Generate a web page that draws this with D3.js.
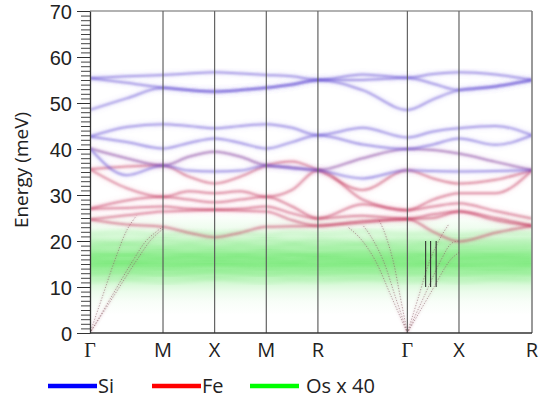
<!DOCTYPE html>
<html><head><meta charset="utf-8">
<script src="https://cdn.jsdelivr.net/npm/d3@7"></script>
<style>
body{margin:0;background:#fff;}
svg{display:block;}
text{font-family:"Open Sans",sans-serif;fill:#222;}
</style>
</head><body>
<svg id="c" width="539" height="401"></svg>
<script>
// ---------- data ----------
const kNodes=[0,0.354,0.707,0.957,1.207,1.457,1.707,1.957,2.207,2.640,3.073,3.323,3.573,3.927,4.280];
const symK=[0,0.707,1.207,1.707,2.207,3.073,3.573,4.280];
const symLabels=["Γ","M","X","M","R","Γ","X","R"];
const yTicks=[0,10,20,30,40,50,60,70];
const legendNames=["Si","Fe","Os x 40"];
const legendColors=["#0000ff","#ff0000","#00ff00"];

// Si-dominated branches (meV) at kNodes
const siBands=[
 [55.4,55.8,56.1,56.4,56.7,56.4,56.1,55.8,55.0,56.2,55.5,56.3,56.7,56.2,55.0],
 [55.4,54.4,53.3,52.8,52.5,52.8,53.3,54.0,55.0,55.0,55.5,54.2,52.8,53.6,55.0],
 [48.5,51.0,53.3,52.8,52.5,52.8,53.3,54.0,55.0,52.8,48.5,50.8,52.8,53.6,55.0],
 [42.7,44.8,45.4,45.0,44.5,45.0,45.4,44.6,43.0,44.6,42.5,43.8,44.5,45.0,43.0],
 [42.7,41.5,40.1,41.3,42.3,41.3,40.1,41.5,43.0,41.0,40.0,41.0,42.3,40.9,43.0],
 [40.1,34.3,36.4,35.3,35.1,35.3,36.4,35.8,35.4,33.6,35.4,35.2,35.1,35.2,35.4]
];
// mixed Si/Fe branches
const mixBands=[
 [40.1,38.0,36.4,38.3,39.4,38.3,36.4,36.0,35.4,38.0,40.0,39.8,39.0,37.2,35.4]
];
// Fe-dominated branches
const feBands=[
 [35.6,36.2,36.4,34.0,32.5,34.0,36.4,37.3,35.4,31.1,35.4,33.6,32.5,33.3,35.4],
 [35.6,31.5,29.6,30.8,30.4,30.8,29.6,31.1,35.4,29.0,26.7,29.0,30.4,30.4,35.4],
 [27.0,28.8,29.6,29.0,28.4,29.0,29.6,27.5,24.9,28.0,26.7,27.5,28.2,26.5,24.9],
 [27.0,27.2,27.5,27.0,26.8,27.0,27.5,26.0,24.9,25.5,24.8,25.8,26.4,25.0,23.3],
 [24.7,25.6,26.4,26.6,26.8,26.6,26.4,24.5,23.3,24.3,24.8,25.0,26.4,24.5,23.3],
 [24.7,23.6,23.1,21.8,20.8,21.8,23.1,23.2,23.3,24.0,24.8,22.0,19.9,21.8,23.3]
];
// Os (x40) low-lying branches
const osBands=[
 [21.5,22.0,21.2,21.8,21.4,21.8,21.2,21.9,21.5,22.2,21.5,21.7,21.3,21.9,21.6],
 [20.0,19.6,20.3,19.8,20.2,19.8,20.3,19.7,20.1,19.5,20.0,19.8,20.4,19.9,20.1],
 [18.8,19.3,18.6,19.0,18.5,19.0,18.6,19.2,18.7,19.1,18.8,19.4,18.9,18.6,19.0],
 [17.5,17.0,17.8,17.2,17.6,17.2,17.8,17.3,17.0,17.6,17.5,17.1,17.7,17.3,17.6],
 [16.6,16.9,16.4,16.8,16.5,16.8,16.4,16.9,16.6,16.3,16.6,16.9,16.5,16.7,16.4],
 [16.0,15.5,15.8,16.2,16.0,16.2,15.8,15.6,16.1,15.7,16.0,15.6,15.9,16.2,15.8],
 [15.0,15.3,14.8,15.2,15.4,15.2,14.8,15.1,14.9,15.3,15.0,15.2,14.7,15.1,15.2],
 [14.2,14.6,14.0,14.5,14.8,14.5,14.0,14.4,14.1,14.6,14.2,14.7,14.3,14.0,14.5],
 [12.8,13.2,12.6,13.0,13.4,13.0,12.6,13.1,12.9,13.3,12.8,13.0,12.7,13.2,12.9],
 [11.2,11.6,11.0,11.4,11.8,11.4,11.0,11.5,11.3,11.7,11.2,11.5,11.1,11.6,11.3]
];
const osHigh=[61.0,57.6];
// Os density profile (energy, relative intensity)
const osProfileE=[26,23,21,19,17,15,13,11,9,7,4];
const osProfileA=[0,0.08,0.2,0.36,0.52,0.56,0.44,0.22,0.1,0.04,0];
// acoustic branches near Γ, [k, meV]
const acoustic=[
 [[0,0],[0.12,7.9],[0.242,15.9],[0.36,22.5],[0.45,25.5]],
 [[0,0],[0.2,7.6],[0.42,15.9],[0.55,20.2],[0.707,23.1]],
 [[0,0],[0.22,7.7],[0.455,15.9],[0.6,20.5],[0.707,22.6]],
 [[3.073,0],[3.003,8],[2.933,15.9],[2.85,22],[2.80,24.5]],
 [[3.073,0],[2.955,8],[2.837,15.9],[2.72,21],[2.64,23.5]],
 [[3.073,0],[2.916,8],[2.759,15.9],[2.62,20.5],[2.50,23]],
 [[3.073,0],[3.183,8],[3.293,15.9],[3.40,21],[3.47,23.5]],
 [[3.073,0],[3.236,8],[3.40,15.9],[3.50,19.5],[3.573,20]],
 [[3.073,0],[3.28,8],[3.49,15.9],[3.573,17.5]]
];
const markK=[3.250,3.298,3.352];
const markE=[10,20];

// ---------- drawing ----------
const svg=d3.select("#c");
const L=90,R=532,T=11,B=333;
const x=d3.scaleLinear().domain([0,4.280]).range([L,R]);
const y=d3.scaleLinear().domain([0,70]).range([B,T]);

const defs=svg.append("defs");
defs.append("clipPath").attr("id","clip").append("rect")
  .attr("x",L).attr("y",T).attr("width",R-L).attr("height",B-T);
const fb=defs.append("filter").attr("id","blur").attr("x","-5%").attr("y","-50%").attr("width","110%").attr("height","200%");
fb.append("feGaussianBlur").attr("stdDeviation",1.0);
const fb2=defs.append("filter").attr("id","blur2").attr("x","-5%").attr("y","-50%").attr("width","110%").attr("height","200%");
fb2.append("feGaussianBlur").attr("stdDeviation",2.2);

const grad=defs.append("linearGradient").attr("id","osg")
  .attr("gradientUnits","userSpaceOnUse").attr("x1",0).attr("x2",0)
  .attr("y1",y(osProfileE[0])).attr("y2",y(osProfileE[osProfileE.length-1]));
const e0=osProfileE[0], e1=osProfileE[osProfileE.length-1];
osProfileE.forEach((e,i)=>{
  grad.append("stop").attr("offset",(e0-e)/(e0-e1))
    .attr("stop-color","rgb(60,225,60)").attr("stop-opacity",osProfileA[i]);
});

const g=svg.append("g").attr("clip-path","url(#clip)");

// Os cloud
g.append("rect").attr("x",L).attr("width",R-L)
  .attr("y",y(e0)).attr("height",y(e1)-y(e0)).attr("fill","url(#osg)");

const line=d3.line().x((d,i)=>x(kNodes[i])).y(d=>y(d)).curve(d3.curveMonotoneX);

g.selectAll(".osb").data(osBands).join("path")
  .attr("d",line).attr("fill","none").attr("stroke","rgb(50,205,50)")
  .attr("stroke-width",2.2).attr("stroke-opacity",0.16).attr("filter","url(#blur2)");

g.selectAll(".osh").data(osHigh).join("line")
  .attr("x1",L).attr("x2",R).attr("y1",d=>y(d)).attr("y2",d=>y(d))
  .attr("stroke","rgb(200,232,220)").attr("stroke-width",2).attr("stroke-opacity",0.55)
  .attr("filter","url(#blur)");

// acoustic (dotted)
const acPath=d=>d3.line().x(p=>x(p[0])).y(p=>y(p[1])).curve(d3.curveCatmullRom)(d);
g.selectAll(".acw").data(acoustic).join("path")
  .attr("d",acPath)
  .attr("fill","none").attr("stroke","rgb(190,120,140)").attr("stroke-width",2.2)
  .attr("stroke-opacity",0.12).attr("filter","url(#blur)");
g.selectAll(".ac").data(acoustic).join("path")
  .attr("d",acPath)
  .attr("fill","none").attr("stroke","rgb(130,85,95)").attr("stroke-width",0.9)
  .attr("stroke-dasharray","1.2,1.6").attr("stroke-opacity",0.6);

// bands
function drawBands(data,glow,core){
  g.append("g").selectAll("path").data(data).join("path")
    .attr("d",line).attr("fill","none").attr("stroke",glow)
    .attr("stroke-width",5).attr("stroke-opacity",0.14).attr("filter","url(#blur2)");
  g.append("g").selectAll("path").data(data).join("path")
    .attr("d",line).attr("fill","none").attr("stroke",core)
    .attr("stroke-width",2.0).attr("stroke-opacity",0.55).attr("filter","url(#blur)");
}
drawBands(feBands,"rgb(225,110,140)","rgb(195,60,95)");
drawBands(mixBands,"rgb(160,90,190)","rgb(120,45,145)");
drawBands(siBands,"rgb(130,115,230)","rgb(100,80,210)");

// high-symmetry vertical lines
svg.selectAll(".vl").data(symK.slice(1,-1)).join("line")
  .attr("x1",d=>x(d)).attr("x2",d=>x(d)).attr("y1",T).attr("y2",B)
  .attr("stroke","#555").attr("stroke-width",1.1);

// short marker lines
svg.selectAll(".mk").data(markK).join("line")
  .attr("x1",d=>x(d)).attr("x2",d=>x(d)).attr("y1",y(markE[1])).attr("y2",y(markE[0]))
  .attr("stroke","#333").attr("stroke-width",1.1);

// border
svg.append("line").attr("x1",L).attr("x2",R).attr("y1",T).attr("y2",T).attr("stroke","#666").attr("stroke-width",1.2);
svg.append("line").attr("x1",R).attr("x2",R).attr("y1",T).attr("y2",B).attr("stroke","#777").attr("stroke-width",1.5);
svg.append("line").attr("x1",L).attr("x2",R).attr("y1",B).attr("y2",B).attr("stroke","#333").attr("stroke-width",1.3);

// y axis
const minor=svg.append("g").attr("transform",`translate(${L},0)`)
  .call(d3.axisLeft(y).tickValues(d3.range(0,71,1)).tickSize(9).tickFormat(""));
minor.select(".domain").remove();
minor.selectAll("line").attr("stroke","#444");
const major=svg.append("g").attr("transform",`translate(${L},0)`)
  .call(d3.axisLeft(y).tickValues(yTicks).tickSize(13).tickPadding(5).tickSizeOuter(0));
major.select(".domain").attr("stroke","#333").attr("stroke-width",1.3);
major.selectAll("line").attr("stroke","#333");
major.selectAll("text").style("font-family","'Liberation Sans',Arial,sans-serif").style("font-size","20px").attr("fill","#222")
  .attr("dy","0.36em");

svg.append("text").attr("transform","translate(21,170) rotate(-90)")
  .attr("text-anchor","middle").attr("dominant-baseline","central")
  .style("font-size","19px").text("Energy (meV)");

// x labels
svg.selectAll(".xl").data(symK).join("text")
  .attr("x",d=>x(d)).attr("y",357).attr("text-anchor","middle")
  .style("font-size","20px")
  .style("font-family",(d,i)=>symLabels[i]==="Γ"?"'Liberation Serif',serif":"'Open Sans',sans-serif")
  .text((d,i)=>symLabels[i]);

// legend
const legX=[48,152,250];
legendNames.forEach((n,i)=>{
  svg.append("line").attr("x1",legX[i]).attr("x2",legX[i]+49).attr("y1",386).attr("y2",386)
    .attr("stroke",legendColors[i]).attr("stroke-width",4.5);
  svg.append("text").attr("x",legX[i]+(i===2?56:50)).attr("y",393).style("font-size","20px").text(n);
});
</script>
</body></html>
